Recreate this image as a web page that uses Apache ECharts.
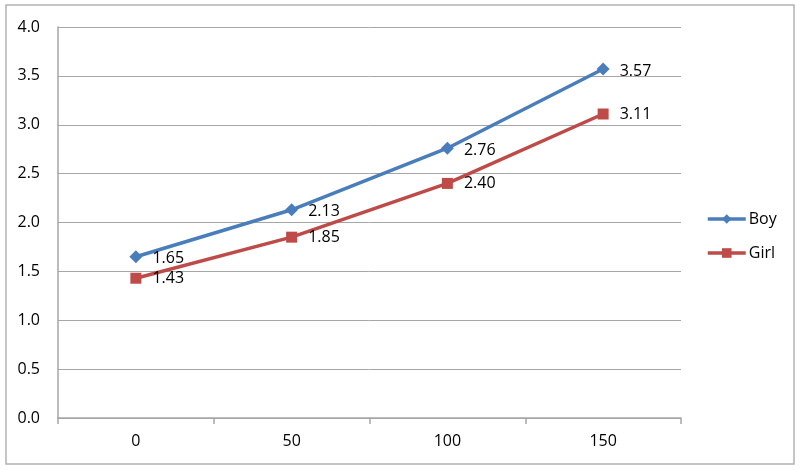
<!DOCTYPE html>
<html>
<head>
<meta charset="utf-8">
<script src="https://cdn.jsdelivr.net/npm/echarts@6/dist/echarts.min.js"></script>
<style>
html,body{margin:0;padding:0;background:#fff;}
#chart{width:800px;height:470px;}
</style>
</head>
<body>
<div id="chart"></div>
<script>
var categories = ['0', '50', '100', '150'];
var boyValues = [1.65, 2.13, 2.76, 3.57];
var girlValues = [1.43, 1.85, 2.40, 3.11];
var seriesNames = ['Boy', 'Girl'];

var chart = echarts.init(document.getElementById('chart'));
var font = '"Open Sans", "Liberation Sans", Arial, sans-serif';
function labelCfg(off) {
  return {
    show: true,
    position: 'right',
    offset: off,
    color: '#000',
    fontSize: 16,
    fontFamily: font,
    formatter: function (p) { return p.value.toFixed(2); }
  };
}
chart.setOption({
  animation: false,
  backgroundColor: '#fff',
  graphic: [{
    type: 'rect',
    shape: { x: 6, y: 5, width: 788, height: 459 },
    style: { fill: 'none', stroke: '#b3b3b3', lineWidth: 1.5 },
    silent: true
  }],
  grid: { left: 58, right: 119, top: 27, bottom: 52 },
  legend: {
    orient: 'vertical',
    left: 701,
    top: 206,
    padding: 5,
    itemGap: 18,
    itemWidth: 38,
    itemHeight: 12,
    lineStyle: { width: 3.5 },
    textStyle: { fontSize: 16, fontFamily: font, color: '#000', padding: [0, 0, 0, -2] },
    data: seriesNames
  },
  xAxis: {
    type: 'category',
    data: categories,
    boundaryGap: true,
    axisLine: { lineStyle: { color: '#a6a6a6', width: 1.5 } },
    axisTick: { show: true, interval: 0, length: 6, lineStyle: { color: '#a6a6a6', width: 1.5 } },
    axisLabel: { fontSize: 16, fontFamily: font, color: '#000', margin: 15 }
  },
  yAxis: {
    type: 'value',
    min: 0,
    max: 4,
    interval: 0.5,
    axisLine: { show: true, lineStyle: { color: '#a6a6a6', width: 1.5 } },
    axisTick: { show: false },
    splitLine: { lineStyle: { color: '#a6a6a6', width: 1 } },
    axisLabel: {
      fontSize: 16, fontFamily: font, color: '#000', margin: 18,
      formatter: function (v) { return v.toFixed(1); }
    }
  },
  series: [{
    name: seriesNames[0],
    type: 'line',
    data: boyValues,
    color: '#4a7ebb',
    lineStyle: { width: 3.5, color: '#4a7ebb' },
    itemStyle: { color: '#4a7ebb' },
    symbol: 'diamond',
    symbolSize: 13,
    label: labelCfg([5, 2])
  }, {
    name: seriesNames[1],
    type: 'line',
    data: girlValues,
    color: '#be4b48',
    lineStyle: { width: 3.5, color: '#be4b48' },
    itemStyle: { color: '#be4b48' },
    symbol: 'rect',
    symbolSize: 11,
    label: labelCfg([6, 0])
  }]
});
</script>
</body>
</html>
